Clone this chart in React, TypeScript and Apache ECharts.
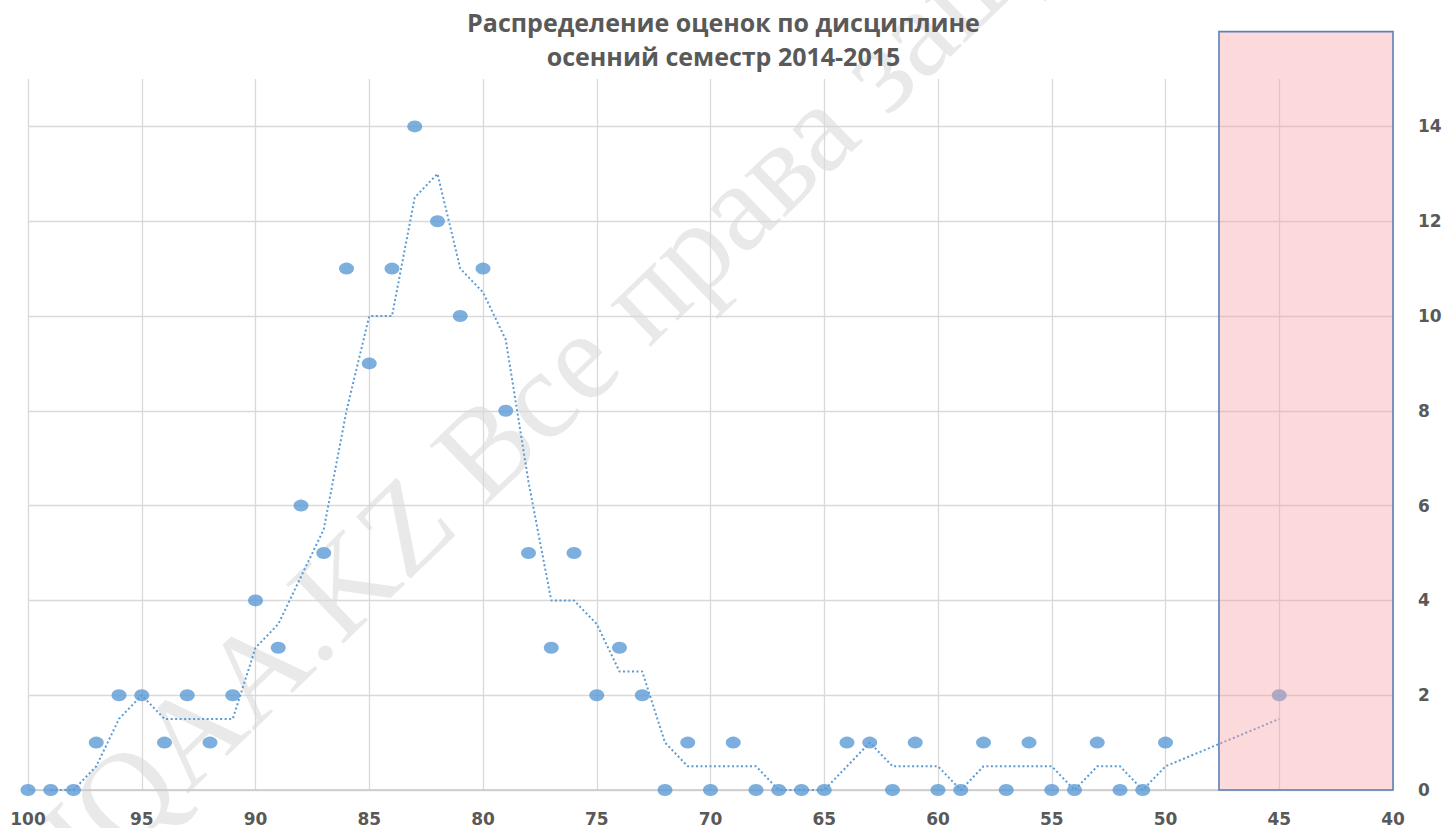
import React, { useEffect, useRef } from "react";
import * as echarts from "echarts";

const titleLines = ["Распределение оценок по дисциплине", "осенний семестр 2014-2015"];

// scores (x) and number of students (y)
const scores = [
  100, 99, 98, 97, 96, 95, 94, 93, 92, 91, 90, 89, 88, 87, 86, 85, 84, 83, 82, 81,
  80, 79, 78, 77, 76, 75, 74, 73, 72, 71, 70, 69, 68, 67, 66, 65, 64, 63, 62, 61,
  60, 59, 58, 57, 56, 55, 54, 53, 52, 51, 50, 45,
];
const counts = [
  0, 0, 0, 1, 2, 2, 1, 2, 1, 2, 4, 3, 6, 5, 11, 9, 11, 14, 12, 10,
  11, 8, 5, 3, 5, 2, 3, 2, 0, 1, 0, 1, 0, 0, 0, 0, 1, 1, 0, 1,
  0, 0, 1, 0, 1, 0, 0, 1, 0, 0, 1, 2,
];

// 2-period moving average trendline (starts at 99)
const trendScores = [
  99, 98, 97, 96, 95, 94, 93, 92, 91, 90, 89, 88, 87, 86, 85, 84, 83, 82, 81, 80,
  79, 78, 77, 76, 75, 74, 73, 72, 71, 70, 69, 68, 67, 66, 65, 64, 63, 62, 61, 60,
  59, 58, 57, 56, 55, 54, 53, 52, 51, 50, 45,
];
const trendValues = [
  0, 0, 0.5, 1.5, 2, 1.5, 1.5, 1.5, 1.5, 3, 3.5, 4.5, 5.5, 8, 10, 10, 12.5, 13, 11, 10.5,
  9.5, 6.5, 4, 4, 3.5, 2.5, 2.5, 1, 0.5, 0.5, 0.5, 0.5, 0, 0, 0, 0.5, 1, 0.5, 0.5, 0.5,
  0, 0.5, 0.5, 0.5, 0.5, 0, 0.5, 0.5, 0, 0.5, 1.5,
];

// failing zone highlight (score range and count height)
const failZoneScores = [47.65, 40];
const failZoneCounts = [0, 16];

const xMin = 40;
const xMax = 100;
const xStep = 5;
const yMin = 0;
const yMax = 15;
const yStep = 2;

const watermark = "IQAA.KZ Все права защищены";

export default function App() {
  const ref = useRef<HTMLDivElement>(null);

  useEffect(() => {
    if (!ref.current) return;
    const chart = echarts.init(ref.current, undefined, { renderer: "svg" });
    const textColor = "#595959";
    const option: any = {
      animation: false,
      backgroundColor: "#ffffff",
      title: {
        text: titleLines.join("\n"),
        left: "center",
        top: 0,
        textStyle: {
          fontFamily: "Open Sans",
          fontWeight: "bold",
          fontSize: 25,
          lineHeight: 34,
          color: textColor,
        },
      },
      grid: { left: 28, right: 54, top: 79, bottom: 38, containLabel: false },
      xAxis: {
        type: "value",
        min: xMin,
        max: xMax,
        interval: xStep,
        inverse: true,
        axisLine: { show: true, lineStyle: { color: "#C9C9C9", width: 1.5 } },
        axisTick: { show: false },
        axisLabel: {
          margin: 20,
          fontFamily: "DejaVu Sans",
          fontWeight: "bold",
          fontSize: 17,
          color: textColor,
        },
        splitLine: { show: true, lineStyle: { color: "#D9D9D9", width: 1.3 } },
      },
      yAxis: {
        type: "value",
        position: "right",
        min: yMin,
        max: yMax,
        interval: yStep,
        axisLine: { show: false },
        axisTick: { show: false },
        axisLabel: {
          margin: 25,
          showMaxLabel: false,
          fontFamily: "DejaVu Sans",
          fontWeight: "bold",
          fontSize: 17,
          color: textColor,
        },
        splitLine: { show: true, showMaxLine: false, lineStyle: { color: "#D9D9D9", width: 1.3 } },
      },
      series: [
        {
          type: "line",
          data: trendScores.map((s, i) => [s, trendValues[i]]),
          showSymbol: false,
          symbol: "none",
          lineStyle: { color: "#5B9BD5", width: 2, type: [2, 2.5] },
          z: 2,
        },
        {
          type: "scatter",
          data: scores.map((s, i) => [s, counts[i]]),
          symbol: "circle",
          symbolSize: [15, 12],
          itemStyle: { color: "#5B9BD5" },
          z: 3,
        },
      ],
    };
    chart.setOption(option);

    const p1 = chart.convertToPixel({ gridIndex: 0 }, [failZoneScores[0], failZoneCounts[1]]) as number[];
    const p2 = chart.convertToPixel({ gridIndex: 0 }, [failZoneScores[1], failZoneCounts[0]]) as number[];
    const wmStart = chart.convertToPixel({ gridIndex: 0 }, [98.5, -1.4]) as number[];
    chart.setOption({
      graphic: [
        {
          type: "text",
          x: wmStart[0],
          y: wmStart[1],
          rotation: (44 * Math.PI) / 180,
          z: -1,
          silent: true,
          style: {
            text: watermark,
            fontFamily: "Liberation Serif",
            fontSize: 126,
            fill: "rgba(0,0,0,0.085)",
            align: "left",
            verticalAlign: "middle",
          },
        },
        {
          type: "rect",
          z: 100,
          silent: true,
          shape: {
            x: Math.min(p1[0], p2[0]),
            y: Math.min(p1[1], p2[1]),
            width: Math.abs(p2[0] - p1[0]),
            height: Math.abs(p2[1] - p1[1]),
          },
          style: {
            fill: "rgba(248,160,165,0.4)",
            stroke: "#5E80B8",
            lineWidth: 1.6,
          },
        },
      ],
    });

    return () => chart.dispose();
  }, []);

  return (
    <div
      ref={ref}
      style={{ position: "fixed", left: 0, top: 0, width: "1447px", height: "828px" }}
    />
  );
}
